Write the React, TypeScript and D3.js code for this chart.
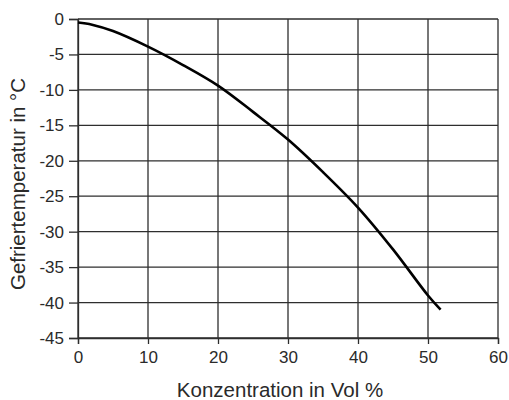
import * as d3 from 'd3';
import React, { useEffect, useRef } from 'react';

// Konzentration (Vol %) und Gefriertemperatur (°C)
const concentration = [0, 2, 5, 10, 15, 20, 25, 30, 35, 40, 45, 50, 51.8];
const freezeTemp = [-0.5, -0.8, -1.7, -3.9, -6.5, -9.4, -13.1, -17.0, -21.6, -26.6, -32.5, -39.0, -41.0];

const xTicks = [0, 10, 20, 30, 40, 50, 60];
const yTicks = [0, -5, -10, -15, -20, -25, -30, -35, -40, -45];

const W = 509;
const H = 400;
const FONT = 'Liberation Sans, Arial, sans-serif';

const App: React.FC = () => {
  const svgRef = useRef<SVGSVGElement>(null);

  useEffect(() => {
    const svg = d3.select(svgRef.current)
      .attr('width', W)
      .attr('height', H)
      .html('');

    const margin = { top: 19, right: 11, bottom: 62, left: 78 };

    const x = d3.scaleLinear()
      .domain([0, 60])
      .range([margin.left, W - margin.right]);

    const y = d3.scaleLinear()
      .domain([-45, 0])
      .range([H - margin.bottom, margin.top]);

    const grid = svg.append('g').attr('stroke', '#2e2e2e').attr('stroke-width', 1.3);

    grid.selectAll('.hgrid')
      .data(yTicks)
      .enter().append('line')
        .attr('x1', x(0)).attr('x2', x(60))
        .attr('y1', d => y(d)).attr('y2', d => y(d));

    grid.selectAll('.vgrid')
      .data(xTicks)
      .enter().append('line')
        .attr('y1', y(0)).attr('y2', y(-45))
        .attr('x1', d => x(d)).attr('x2', d => x(d));

    // plain hyphen as minus sign, like the original
    const fmt = (d: d3.NumberValue) => String(d);

    const xAxis = svg.append('g')
      .attr('transform', `translate(0,${y(-45)})`)
      .call(d3.axisBottom(x).tickValues(xTicks).tickSize(6).tickPadding(7).tickFormat(fmt));
    xAxis.select('.domain').attr('stroke', '#2e2e2e').attr('stroke-width', 1.3);
    xAxis.selectAll('.tick line').attr('stroke', '#2e2e2e').attr('stroke-width', 1.3);
    xAxis.selectAll('text')
      .attr('font-family', FONT)
      .attr('font-size', 17)
      .attr('fill', '#2a2a2a');

    const yAxis = svg.append('g')
      .attr('transform', `translate(${x(0)},0)`)
      .call(d3.axisLeft(y).tickValues(yTicks).tickSize(9).tickPadding(5).tickFormat(fmt));
    yAxis.select('.domain').attr('stroke', '#2e2e2e').attr('stroke-width', 1.3);
    yAxis.selectAll('.tick line').attr('stroke', '#2e2e2e').attr('stroke-width', 1.3);
    yAxis.selectAll('text')
      .attr('font-family', FONT)
      .attr('font-size', 17)
      .attr('fill', '#2a2a2a');

    const points = concentration.map((c, i) => [c, freezeTemp[i]] as [number, number]);

    svg.append('path')
      .datum(points)
      .attr('fill', 'none')
      .attr('stroke', '#000')
      .attr('stroke-width', 2.6)
      .attr('stroke-linejoin', 'round')
      .attr('d', d3.line<[number, number]>()
        .x(d => x(d[0]))
        .y(d => y(d[1]))
        .curve(d3.curveCatmullRom));

    svg.append('text')
      .attr('x', 280)
      .attr('y', 397)
      .attr('text-anchor', 'middle')
      .attr('font-family', FONT)
      .attr('font-size', 20.5)
      .attr('fill', '#2a2a2a')
      .text('Konzentration in Vol %');

    svg.append('text')
      .attr('transform', `translate(25,184) rotate(-90)`)
      .attr('text-anchor', 'middle')
      .attr('font-family', FONT)
      .attr('font-size', 20.5)
      .attr('fill', '#2a2a2a')
      .text('Gefriertemperatur in °C');
  }, []);

  return (
    <svg ref={svgRef} style={{ position: 'absolute', left: 0, top: 0, background: '#fff' }} />
  );
};

export default App;
